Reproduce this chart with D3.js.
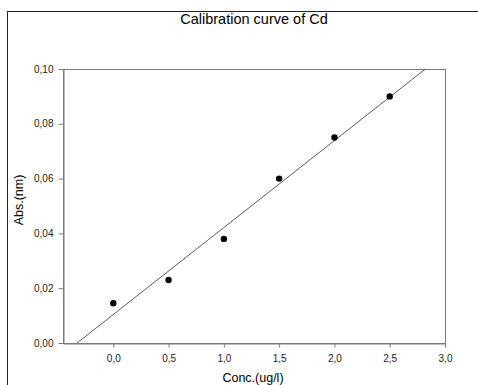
<!DOCTYPE html>
<html>
<head>
<meta charset="utf-8">
<script src="https://cdn.jsdelivr.net/npm/d3@7"></script>
<style>
body{margin:0;background:#fff;}
text{font-family:"Liberation Sans",Arial,sans-serif;}
</style>
</head>
<body>
<div id="chart"></div>
<script>
// data
let conc=[0,0.5,1.0,1.5,2.0,2.5];
let abs=[0.0145,0.023,0.038,0.060,0.075,0.090];
let xTicks=[0,0.5,1.0,1.5,2.0,2.5,3.0];
let yTicks=[0,0.02,0.04,0.06,0.08,0.10];

let W=478,H=385;
let margin={left:63,top:69,right:33,bottom:42};

let svg=d3.select(`#chart`).append(`svg`)
    .attr(`width`,W)
    .attr(`height`,H);

// outer frame (runs off the right/bottom edge)
svg.append(`rect`)
    .attr(`x`,7.5).attr(`y`,11.5)
    .attr(`width`,W+10).attr(`height`,H+10)
    .attr(`fill`,`none`).attr(`stroke`,`#222`).attr(`stroke-width`,1);

let width=W-margin.left-margin.right;
let height=H-margin.top-margin.bottom;

let graph=svg.append(`g`)
    .attr(`transform`,`translate(`+margin.left+`,`+margin.top+`)`);

let x=d3.scaleLinear().domain([-0.455,3.0]).range([0,width]);
let y=d3.scaleLinear().domain([0,0.10]).range([height,0]);

let comma=f=>v=>d3.format(f)(v).replace(`.`,`,`);

// frame of plot area
graph.append(`rect`)
    .attr(`x`,0.5).attr(`y`,0.5)
    .attr(`width`,width).attr(`height`,height)
    .attr(`fill`,`none`).attr(`stroke`,`#7a7a7a`);

let yAxis=graph.append(`g`)
    .attr(`class`,`y axis`)
    .attr(`transform`,`translate(0.5,0)`)
    .call(d3.axisLeft(y).tickValues(yTicks).tickFormat(comma(`.2f`)).tickSize(5).tickSizeOuter(0));

let xAxis=graph.append(`g`)
    .attr(`class`,`x axis`)
    .attr(`transform`,`translate(0,`+(height+0.5)+`)`)
    .call(d3.axisBottom(x).tickValues(xTicks).tickFormat(comma(`.1f`)).tickSize(4).tickSizeOuter(0));

graph.selectAll(`.axis path, .axis line`).attr(`stroke`,`#7a7a7a`);
graph.selectAll(`.axis text`)
    .attr(`fill`,`#222`)
    .style(`font-size`,`10px`)
    .style(`font-family`,`"Liberation Sans",Arial,sans-serif`);
yAxis.selectAll(`text`).attr(`x`,-10).attr(`dy`,`0.3em`);
xAxis.selectAll(`text`).attr(`y`,11);

// regression line
let mx=d3.mean(conc),my=d3.mean(abs);
let sxy=d3.sum(conc,(c,i)=>(c-mx)*(abs[i]-my));
let sxx=d3.sum(conc,c=>(c-mx)*(c-mx));
let slope=sxy/sxx,icpt=my-slope*mx;
let x0=(0-icpt)/slope,x1=(0.10-icpt)/slope;
let fit=[[x0,0],[x1,0.10]];

graph.append(`path`)
    .datum(fit)
    .attr(`fill`,`none`)
    .attr(`stroke`,`#333`)
    .attr(`stroke-width`,0.8)
    .attr(`d`,d3.line().x(d=>x(d[0])).y(d=>y(d[1])));

graph.append(`g`)
    .attr(`class`,`dot graph`)
    .selectAll(`circle`)
    .data(conc)
    .enter()
    .append(`circle`)
    .attr(`r`,3.2)
    .attr(`fill`,`#000`)
    .attr(`cx`,d=>x(d))
    .attr(`cy`,(d,i)=>y(abs[i]));

// titles
svg.append(`text`)
    .attr(`x`,254).attr(`y`,24)
    .attr(`text-anchor`,`middle`)
    .style(`font-size`,`14.5px`)
    .text(`Calibration curve of Cd`);

svg.append(`text`)
    .attr(`x`,253).attr(`y`,382)
    .attr(`text-anchor`,`middle`)
    .style(`font-size`,`12.5px`)
    .text(`Conc.(ug/l)`);

svg.append(`text`)
    .attr(`transform`,`translate(23,200) rotate(-90)`)
    .attr(`text-anchor`,`middle`)
    .style(`font-size`,`12.5px`)
    .text(`Abs.(nm)`);
</script>
</body>
</html>
